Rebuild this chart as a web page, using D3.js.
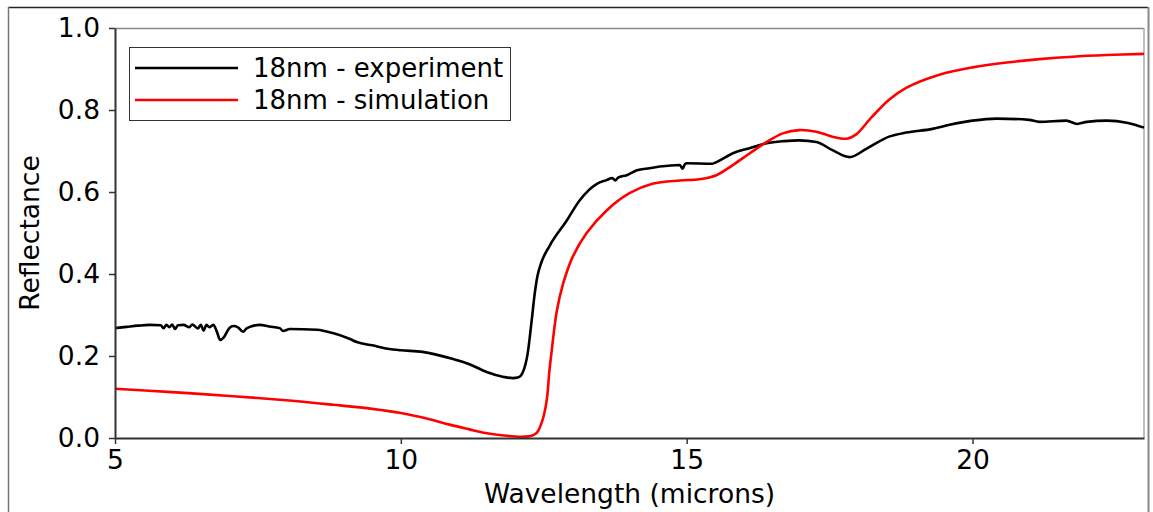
<!DOCTYPE html>
<html>
<head>
<meta charset="utf-8">
<script src="https://cdn.jsdelivr.net/npm/d3@7"></script>
<style>
  body { margin: 0; background: #fff; }
  text { font-family: "DejaVu Sans", sans-serif; }
</style>
</head>
<body>
<div id="chart"></div>
<script>
// data
const expWave = [5.0, 5.2, 5.4, 5.6, 5.8, 5.85, 5.9, 5.95, 6.0, 6.05, 6.1, 6.2, 6.3, 6.35, 6.45, 6.5, 6.55, 6.6, 6.65, 6.72, 6.78, 6.84, 6.9, 7.0, 7.07, 7.15, 7.24, 7.3, 7.36, 7.53, 7.7, 7.88, 7.94, 8.06, 8.53, 8.81, 9.1, 9.23, 9.5, 9.8, 10.0, 10.38, 10.9, 11.2, 11.5, 11.8, 11.96, 12.06, 12.13, 12.22, 12.29, 12.34, 12.39, 12.45, 12.6, 12.9, 13.13, 13.43, 13.6, 13.7, 13.75, 13.8, 13.95, 14.13, 14.35, 14.53, 14.88, 14.93, 14.97, 15.0, 15.45, 15.52, 15.8, 16.1, 16.4, 16.7, 16.97, 17.27, 17.55, 17.85, 18.15, 18.54, 18.84, 19.3, 19.6, 20.0, 20.42, 20.99, 21.17, 21.64, 21.83, 22.0, 22.35, 22.7, 23.0];
const expRefl = [0.268, 0.271, 0.274, 0.276, 0.275, 0.268, 0.276, 0.270, 0.277, 0.266, 0.275, 0.276, 0.270, 0.277, 0.267, 0.276, 0.262, 0.276, 0.270, 0.276, 0.260, 0.239, 0.245, 0.268, 0.273, 0.270, 0.259, 0.267, 0.271, 0.276, 0.272, 0.268, 0.261, 0.266, 0.264, 0.256, 0.242, 0.234, 0.226, 0.217, 0.214, 0.210, 0.193, 0.180, 0.161, 0.149, 0.146, 0.148, 0.159, 0.207, 0.288, 0.350, 0.395, 0.425, 0.468, 0.530, 0.580, 0.620, 0.629, 0.634, 0.628, 0.635, 0.641, 0.653, 0.658, 0.662, 0.666, 0.657, 0.668, 0.670, 0.669, 0.673, 0.694, 0.707, 0.719, 0.724, 0.726, 0.722, 0.702, 0.685, 0.706, 0.735, 0.745, 0.754, 0.764, 0.774, 0.779, 0.776, 0.771, 0.774, 0.766, 0.771, 0.774, 0.769, 0.757];

const simWave = [5.0, 6.0, 7.07, 8.0, 8.82, 9.5, 10.0, 10.5, 10.87, 11.2, 11.45, 11.8, 12.12, 12.3, 12.38, 12.47, 12.55, 12.6, 12.64, 12.73, 12.84, 13.0, 13.25, 13.6, 14.0, 14.4, 14.88, 15.22, 15.52, 15.8, 16.1, 16.4, 16.68, 16.97, 17.27, 17.55, 17.8, 17.96, 18.24, 18.54, 18.84, 19.42, 20.0, 20.6, 21.17, 21.75, 22.35, 23.0];
const simRefl = [0.120, 0.112, 0.102, 0.092, 0.081, 0.071, 0.061, 0.046, 0.032, 0.021, 0.013, 0.006, 0.003, 0.006, 0.013, 0.040, 0.090, 0.165, 0.214, 0.311, 0.377, 0.440, 0.500, 0.555, 0.597, 0.620, 0.628, 0.631, 0.641, 0.665, 0.694, 0.722, 0.743, 0.751, 0.747, 0.735, 0.730, 0.740, 0.783, 0.825, 0.854, 0.886, 0.904, 0.916, 0.924, 0.930, 0.934, 0.937];

const xTicks = [5, 10, 15, 20];
const yTicks = [0.0, 0.2, 0.4, 0.6, 0.8, 1.0];
const seriesNames = ['18nm - experiment', '18nm - simulation'];
const seriesColors = ['#000000', '#ff0000'];

// chart area
const svgWidth = 1153;
const svgHeight = 512;
const margin = { top: 28, bottom: 74, right: 9, left: 115 };
const chartWidth = svgWidth - margin.left - margin.right;
const chartHeight = svgHeight - margin.top - margin.bottom;

const svg = d3.select('#chart')
  .append('svg')
  .attr('width', svgWidth)
  .attr('height', svgHeight);

// outer figure frame (cropped at the bottom in the reference)
svg.append('line').attr('x1', 8).attr('x2', 1148).attr('y1', 7.5).attr('y2', 7.5)
  .attr('stroke', '#222').attr('stroke-width', 1.5);
svg.append('line').attr('x1', 8.5).attr('x2', 8.5).attr('y1', 7).attr('y2', svgHeight)
  .attr('stroke', '#777').attr('stroke-width', 1.5);
svg.append('line').attr('x1', 1148.5).attr('x2', 1148.5).attr('y1', 7).attr('y2', svgHeight)
  .attr('stroke', '#888').attr('stroke-width', 2);

const g = svg.append('g')
  .attr('transform', `translate(${margin.left}, ${margin.top})`);

const xScale = d3.scaleLinear().domain([5, 23]).range([0, chartWidth]);
const yScale = d3.scaleLinear().domain([0, 1]).range([chartHeight, 0]);

// top / right spines (lighter)
g.append('line').attr('x1', 0).attr('x2', chartWidth).attr('y1', 0.5).attr('y2', 0.5)
  .attr('stroke', '#888').attr('stroke-width', 1.5);
g.append('line').attr('x1', chartWidth).attr('x2', chartWidth).attr('y1', 0).attr('y2', chartHeight)
  .attr('stroke', '#aaa').attr('stroke-width', 1.5);

// series lines
const expLine = d3.line()
  .x(d => xScale(d[0]))
  .y(d => yScale(d[1]))
  .curve(d3.curveMonotoneX);
const simLine = d3.line()
  .x(d => xScale(d[0]))
  .y(d => yScale(d[1]))
  .curve(d3.curveCatmullRom.alpha(0.5));

const expData = expWave.map((w, i) => [w, expRefl[i]]);
const simData = simWave.map((w, i) => [w, simRefl[i]]);

g.append('path').datum(expData)
  .attr('d', expLine).attr('fill', 'none')
  .attr('stroke', seriesColors[0]).attr('stroke-width', 2.6)
  .attr('stroke-linejoin', 'round');

g.append('path').datum(simData)
  .attr('d', simLine).attr('fill', 'none')
  .attr('stroke', seriesColors[1]).attr('stroke-width', 2.6)
  .attr('stroke-linejoin', 'round');

// axes
const bottomAxis = d3.axisBottom(xScale).tickValues(xTicks).tickFormat(d3.format('d'))
  .tickSize(6).tickPadding(6).tickSizeOuter(0);
const leftAxis = d3.axisLeft(yScale).tickValues(yTicks).tickFormat(d3.format('.1f'))
  .tickSize(6).tickPadding(9).tickSizeOuter(0);

const xAxisG = g.append('g')
  .attr('transform', `translate(0, ${chartHeight})`)
  .call(bottomAxis);
const yAxisG = g.append('g').call(leftAxis);

[xAxisG, yAxisG].forEach(a => {
  a.select('.domain').attr('stroke', '#333').attr('stroke-width', 2);
  a.selectAll('.tick line').attr('stroke', '#333').attr('stroke-width', 1.5);
  a.selectAll('.tick text')
    .attr('fill', '#000')
    .style('font-family', '"DejaVu Sans", sans-serif')
    .style('font-size', '26.5px');
});

// axis labels
g.append('text')
  .attr('transform', 'rotate(-90)')
  .attr('x', -chartHeight / 2)
  .attr('y', -margin.left + 39)
  .attr('text-anchor', 'middle')
  .style('font-size', '26.5px')
  .text('Reflectance');

g.append('text')
  .attr('x', chartWidth / 2)
  .attr('y', chartHeight + 65)
  .attr('text-anchor', 'middle')
  .style('font-size', '26.5px')
  .text('Wavelength (microns)');

// legend
const legend = svg.append('g').attr('transform', 'translate(129, 47)');
legend.append('rect')
  .attr('x', 0.5).attr('y', 0.5)
  .attr('width', 381).attr('height', 73)
  .attr('fill', '#fff').attr('stroke', '#333').attr('stroke-width', 1);

seriesNames.forEach((name, i) => {
  const yy = 21 + i * 32;
  legend.append('line')
    .attr('x1', 6).attr('x2', 109).attr('y1', yy).attr('y2', yy)
    .attr('stroke', seriesColors[i]).attr('stroke-width', 2.6);
  legend.append('text')
    .attr('x', 124).attr('y', yy + 9)
    .style('font-size', '26px')
    .text(name);
});
</script>
</body>
</html>
